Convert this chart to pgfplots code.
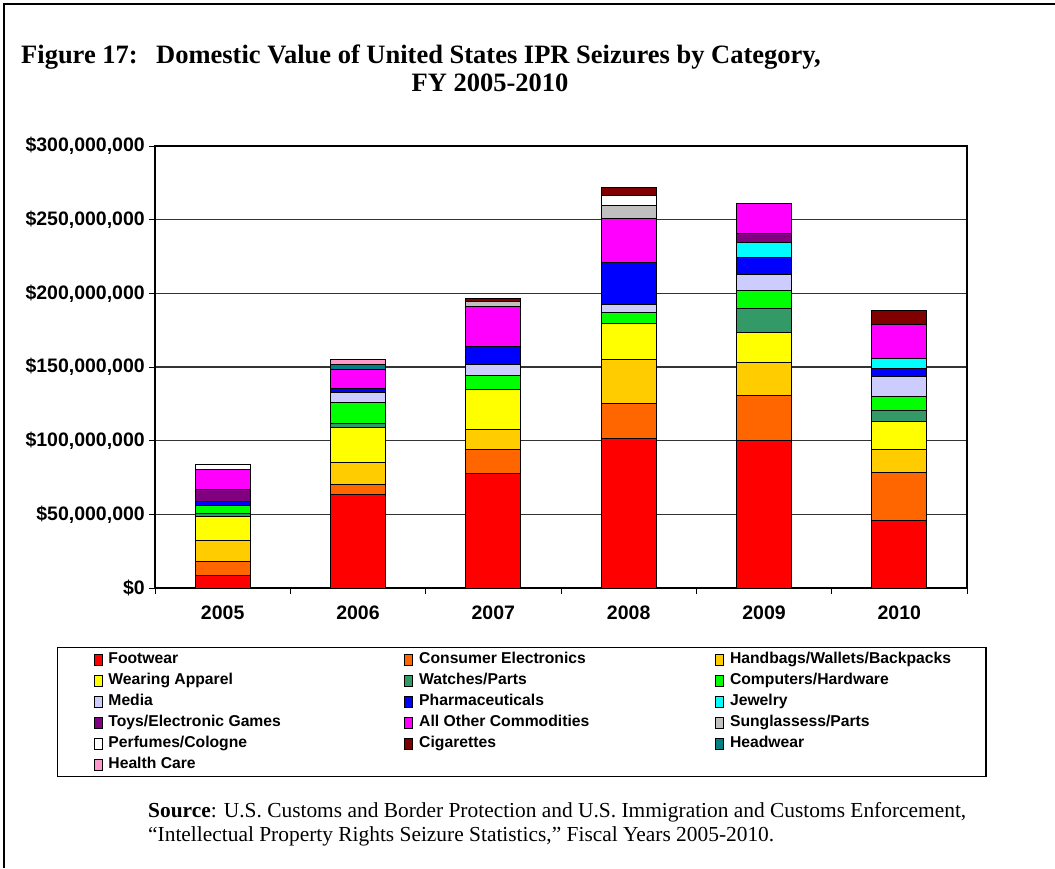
\documentclass[border=0pt]{standalone}
\usepackage{pgfplots}
\usepackage{pgfplotstable}
\pgfplotsset{compat=1.18}
\usepackage{fontspec}
\setmainfont{Liberation Serif}
\newfontfamily\arial{Liberation Sans}

\definecolor{cFoot}{HTML}{FF0000}
\definecolor{cCE}{HTML}{FF6600}
\definecolor{cHand}{HTML}{FFCC00}
\definecolor{cWear}{HTML}{FFFF00}
\definecolor{cWatch}{HTML}{339966}
\definecolor{cComp}{HTML}{00FF00}
\definecolor{cMedia}{HTML}{CCCCFF}
\definecolor{cPharma}{HTML}{0000FF}
\definecolor{cJewel}{HTML}{00FFFF}
\definecolor{cToys}{HTML}{800080}
\definecolor{cOther}{HTML}{FF00FF}
\definecolor{cSun}{HTML}{C0C0C0}
\definecolor{cPerf}{HTML}{FFFFFF}
\definecolor{cCig}{HTML}{800000}
\definecolor{cHead}{HTML}{008080}
\definecolor{cHealth}{HTML}{FF99CC}

% Domestic value of seizures, millions of US dollars (x = fiscal year index, 0 = FY2005)
\pgfplotstableread{
x Foot  CE   Hand Wear Watch Comp Media Pharma Jewel Toys Other Sun Perf Cig  Head Health
0 8.4   9.5  14.2 16.3 2.5   4.9  0     2.9    0     8.3  13.2  0   3.4  0    0    0
1 63.3  6.8  15.1 23.8 2.9   14.3 6.7   2.8    0     0    12.4  0   0    0    3.6  3.2
2 77.5  16.3 13.6 27.6 0     9.5  7.4   11.8   0     0    27.1  3.6 0    2.3  0    0
3 101.3 23.7 29.9 24.6 0     7.7  5.4   28.5   0     0    29.9  8.6 6.5  5.9  0    0
4 99.9  31.0 21.9 20.8 16.3  12.2 10.9  11.5   10.2  5.9  20.3  0   0    0    0    0
5 45.7  33.0 15.1 19.0 7.7   9.5  13.3  5.9    6.4   0    23.0  0   0    10.0 0    0
}\seizures

\newcommand\ticklabelfont{\arial\bfseries\fontsize{19.5}{22}\selectfont}
\newcommand\legendfont{\arial\bfseries\fontsize{15.7}{18}\selectfont}
\newcommand\titlefont{\bfseries\fontsize{26.5}{30}\selectfont}
\newcommand\sourcefont{\fontsize{21.4}{24}\selectfont}
\newcommand\ca[1]{\makebox[296pt][l]{#1}}
\newcommand\cb[1]{\makebox[220pt][l]{#1}}

\pgfplotsset{
  swatch/.style={legend image code/.code={%
      \draw[##1,draw=black,line width=0.8pt] (0pt,-5.5pt) rectangle (8pt,5.5pt);}},
}

\begin{document}
\begin{tikzpicture}[x=1pt,y=1pt]
\useasboundingbox (0,0) rectangle (1055,-868);
% page frame
\draw[line width=2pt] (4,-868) -- (4,-4) -- (1055,-4);

% title
\node[anchor=base west,inner sep=0pt,font=\titlefont] at (21,-63) {Figure 17:};
\node[anchor=base west,inner sep=0pt,font=\titlefont] at (156,-63)
  {Domestic Value of United States IPR Seizures by Category,};
\node[anchor=base,inner sep=0pt,font=\titlefont] at (490,-91) {FY 2005-2010};

\begin{axis}[
  at={(155pt,-588pt)}, anchor=south west,
  scale only axis, width=812pt, height=442pt,
  ybar stacked, bar width=55pt,
  xmin=-0.5, xmax=5.5, ymin=0, ymax=300,
  axis line style={line width=1.3pt, black},
  tick align=outside, major tick length=6pt,
  tick style={black, line width=1pt},
  xtick pos=bottom, ytick pos=left,
  xtick={-0.5,0.5,1.5,2.5,3.5,4.5,5.5}, xticklabels={},
  extra x ticks={0,1,2,3,4,5},
  extra x tick labels={2005,2006,2007,2008,2009,2010},
  extra x tick style={major tick length=0pt,
    xticklabel style={font=\ticklabelfont, inner sep=0pt, yshift=-18pt}},
  ytick={0,50,100,150,200,250,300},
  yticklabels={{\$0},{\$50,000,000},{\$100,000,000},{\$150,000,000},
               {\$200,000,000},{\$250,000,000},{\$300,000,000}},
  yticklabel style={font=\ticklabelfont, inner sep=0pt, xshift=-4pt},
  ymajorgrids, grid style={black!80, line width=1.3pt},
  every axis plot/.append style={draw=black, line width=1pt},
  legend columns=3,
  legend style={at={(-0.1207,-0.1335)}, anchor=north west,
    draw=black, line width=1.3pt, font=\legendfont,
    inner xsep=36pt, inner ysep=4pt, row sep=5pt,
    nodes={inner sep=0pt, text height=12pt, text depth=4pt},
    /tikz/every odd column/.append style={column sep=6pt}},
]
\addplot[fill=cFoot,   swatch] table[x=x,y=Foot]   {\seizures};
\addlegendentry{\ca{Footwear}}
\addplot[fill=cCE,     swatch] table[x=x,y=CE]     {\seizures};
\addlegendentry{\ca{Consumer Electronics}}
\addplot[fill=cHand,   swatch] table[x=x,y=Hand]   {\seizures};
\addlegendentry{\cb{Handbags/Wallets/Backpacks}}
\addplot[fill=cWear,   swatch] table[x=x,y=Wear]   {\seizures};
\addlegendentry{\ca{Wearing Apparel}}
\addplot[fill=cWatch,  swatch] table[x=x,y=Watch]  {\seizures};
\addlegendentry{\ca{Watches/Parts}}
\addplot[fill=cComp,   swatch] table[x=x,y=Comp]   {\seizures};
\addlegendentry{\cb{Computers/Hardware}}
\addplot[fill=cMedia,  swatch] table[x=x,y=Media]  {\seizures};
\addlegendentry{\ca{Media}}
\addplot[fill=cPharma, swatch] table[x=x,y=Pharma] {\seizures};
\addlegendentry{\ca{Pharmaceuticals}}
\addplot[fill=cJewel,  swatch] table[x=x,y=Jewel]  {\seizures};
\addlegendentry{\cb{Jewelry}}
\addplot[fill=cToys,   swatch] table[x=x,y=Toys]   {\seizures};
\addlegendentry{\ca{Toys/Electronic Games}}
\addplot[fill=cOther,  swatch] table[x=x,y=Other]  {\seizures};
\addlegendentry{\ca{All Other Commodities}}
\addplot[fill=cSun,    swatch] table[x=x,y=Sun]    {\seizures};
\addlegendentry{\cb{Sunglassess/Parts}}
\addplot[fill=cPerf,   swatch] table[x=x,y=Perf]   {\seizures};
\addlegendentry{\ca{Perfumes/Cologne}}
\addplot[fill=cCig,    swatch] table[x=x,y=Cig]    {\seizures};
\addlegendentry{\ca{Cigarettes}}
\addplot[fill=cHead,   swatch] table[x=x,y=Head]   {\seizures};
\addlegendentry{\cb{Headwear}}
\addplot[fill=cHealth, swatch] table[x=x,y=Health] {\seizures};
\addlegendentry{\ca{Health Care}}
\end{axis}

% source note
\node[anchor=base west,inner sep=0pt,font=\sourcefont] at (148,-817)
  {\textbf{Source}: U.S. Customs and Border Protection and U.S. Immigration and Customs Enforcement,};
\node[anchor=base west,inner sep=0pt,font=\sourcefont] at (148,-841)
  {“Intellectual Property Rights Seizure Statistics,” Fiscal Years 2005-2010.};
\end{tikzpicture}
\end{document}
